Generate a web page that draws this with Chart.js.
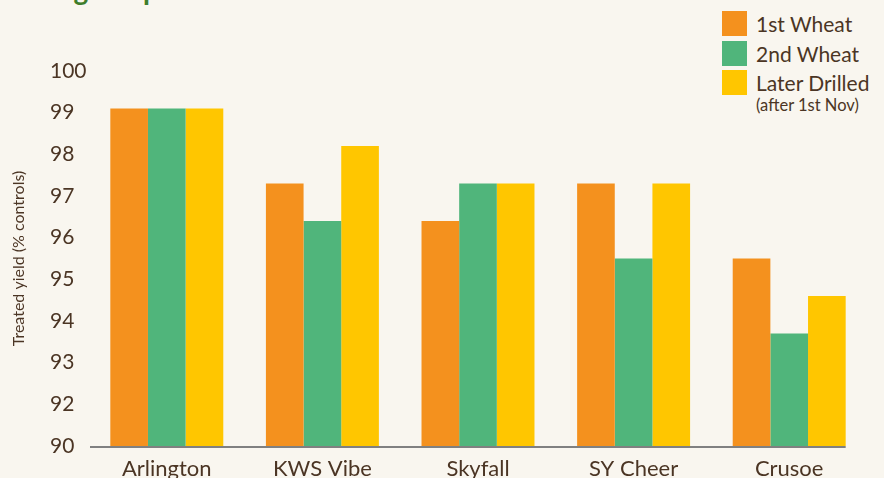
<!DOCTYPE html>
<html>
<head>
<meta charset="utf-8">
<script src="https://cdn.jsdelivr.net/npm/chart.js@4"></script>
<style>
	html, body { margin: 0; padding: 0; background: #f9f6ef; }
	#wrap { position: relative; width: 884px; height: 478px; overflow: hidden; font-family: Lato, sans-serif; color: #4b3524; }
	#heading { position: absolute; left: 11px; top: -28px; font-size: 28px; font-weight: 700; color: #3f7d2b; white-space: nowrap; }
	#legend { position: absolute; left: 722px; top: 11px; }
	.item { display: flex; align-items: flex-start; height: 29.5px; }
	.swatch { width: 25px; height: 25px; margin-right: 9px; flex: none; }
	.label { font-size: 21px; line-height: 25px; }
	.note { font-size: 16.5px; line-height: 18px; margin-left: 34px; margin-top: -4px; }
	canvas { position: absolute; left: 0; top: 0; }
</style>
</head>
<body>
<div id="wrap">
	<div id="heading">with good performance across the board</div>
	<div id="legend"></div>
	<canvas id="yieldChart" width="884" height="478"></canvas>
</div>
<script>
// Varieties and treated yield (% of controls)
const varieties = ['Arlington', 'KWS Vibe', 'Skyfall', 'SY Cheer', 'Crusoe'];
const firstWheat = [99, 97, 96, 97, 95];
const secondWheat = [99, 96, 97, 95, 93];
const laterDrilled = [99, 98, 97, 97, 94];

const seriesNames = ['1st Wheat', '2nd Wheat', 'Later Drilled'];
const seriesNotes = ['', '', '(after 1st Nov)'];
const seriesColours = ['#f4911e', '#50b57b', '#ffc600'];

// Labels as printed on the axis (no 91, the bottom one reads 90)
const yTickLabels = ['90', '92', '93', '94', '95', '96', '97', '98', '99', '100'];

const textColour = '#4b3524';

// Build the legend by hand so the note can sit under its label
function buildLegend() {
	let legend = document.getElementById('legend');
	seriesNames.forEach((name, i) => {
		let item = document.createElement('div');
		item.className = 'item';
		item.innerHTML = `<div class="swatch" style="background:${seriesColours[i]}"></div><div class="label">${name}</div>`;
		legend.appendChild(item);
		if (seriesNotes[i]) {
			let note = document.createElement('div');
			note.className = 'note';
			note.textContent = seriesNotes[i];
			legend.appendChild(note);
		}
	});
}

// Baseline stops at the right edge of the last bar, like the original
const baseline = {
	id: 'baseline',
	afterDatasetsDraw(chart) {
		let meta = chart.getDatasetMeta(chart.data.datasets.length - 1);
		let last = meta.data[meta.data.length - 1];
		let y = chart.chartArea.bottom + 1;
		let ctx = chart.ctx;
		ctx.save();
		ctx.strokeStyle = '#808080';
		ctx.lineWidth = 2;
		ctx.beginPath();
		ctx.moveTo(chart.chartArea.left + 1, y);
		ctx.lineTo(last.x + last.width / 2, y);
		ctx.stroke();
		ctx.restore();
	}
};

function makeChart() {
	let context = document.getElementById('yieldChart');
	let values = [firstWheat, secondWheat, laterDrilled];

	return new Chart(context, {
		type: 'bar',
		data: {
			labels: varieties,
			datasets: values.map((v, i) => ({
				label: seriesNames[i],
				data: v,
				backgroundColor: seriesColours[i],
				borderWidth: 0,
				yAxisID: 'y',
			})),
		},
		plugins: [baseline],
		options: {
			responsive: false,
			animation: false,
			events: [],
			barPercentage: 1,
			categoryPercentage: 0.726,
			layout: { padding: { left: 0, right: 17, top: 71, bottom: 0 } },
			plugins: {
				legend: { display: false },
				tooltip: { enabled: false },
			},
			scales: {
				x: {
					grid: { display: false, drawTicks: false },
					border: { display: false },
					ticks: {
						color: textColour,
						padding: 10,
						maxRotation: 0,
						font: { family: 'Lato', size: 22 },
					},
					afterFit: (scale) => { scale.height = 32; },
				},
				y: {
					position: 'left',
					weight: 1,
					min: 90,
					max: 100,
					grid: { display: false, drawTicks: false },
					border: { display: false },
					ticks: { display: false },
					title: {
						display: true,
						text: 'Treated yield (% controls)',
						color: textColour,
						padding: { top: 9, bottom: 0 },
						font: { family: 'Lato', size: 16 },
					},
					afterFit: (scale) => { scale.width = 50; },
				},
				y2: {
					position: 'left',
					weight: 0,
					min: 91,
					max: 100,
					grid: { display: false, drawTicks: false },
					border: { display: false },
					ticks: {
						stepSize: 1,
						crossAlign: 'far',
						padding: 0,
						color: textColour,
						font: { family: 'Lato', size: 21 },
						callback: (value, index) => yTickLabels[index],
					},
					afterFit: (scale) => { scale.width = 39; },
				},
			},
		},
	});
}

window.onload = () => {
	buildLegend();
	makeChart();
}
</script>
</body>
</html>
